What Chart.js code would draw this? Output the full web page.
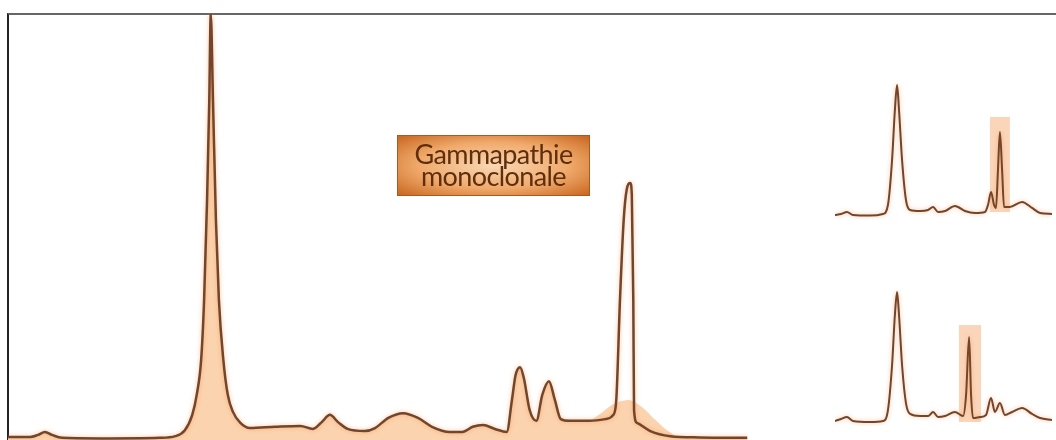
<!DOCTYPE html>
<html>
<head>
<meta charset="utf-8">
<script src="https://cdn.jsdelivr.net/npm/chart.js@4.4.1/dist/chart.umd.min.js"></script>
<style>
  html, body { margin: 0; padding: 0; background: #fff; }
  body { width: 1056px; height: 440px; position: relative; overflow: hidden; }
  .frame { position: absolute; left: 7px; top: 13px; right: 0; bottom: -2px;
           border-top: 2px solid #666; border-left: 2px solid #222; }
  .box { position: absolute; }
  .tag { position: absolute; left: 397px; top: 135px; width: 193px; height: 61px;
         border: 1px solid #a85a22;
         background: radial-gradient(ellipse at center, #f9d8b4 0%, #f0aa6c 55%, #c8661f 100%);
         color: #5e2e0e; font-family: Lato, "Open Sans", sans-serif; font-size: 27px;
         line-height: 22px; text-align: center; padding-top: 7px; box-sizing: border-box;
         letter-spacing: -0.6px; }
</style>
</head>
<body>
<div class="frame"></div>
<div class="box" style="left:8px;top:14px;width:740px;height:426px"><canvas id="main"></canvas></div>
<div class="box" style="left:835px;top:80px;width:217px;height:140px"><canvas id="top"></canvas></div>
<div class="box" style="left:835px;top:286px;width:217px;height:140px"><canvas id="bottom"></canvas></div>
<div class="tag">Gammapathie<br>monoclonale</div>
<script>
// main trace: migration position (0-100) and relative intensity (0-100)
const mainX = [0, 3.0, 4.05, 5.0, 5.95, 7.3, 12.4, 20.5, 22.6, 23.9, 24.9, 25.5, 26.1, 26.5, 26.9, 27.2, 27.4,
  27.7, 28.1, 28.5, 29.1, 29.7, 30.4, 31.4, 32.7, 36.1, 39.5, 41.2, 42.4, 43.5, 44.6, 45.9, 48.2, 49.6, 51.4,
  53.4, 55.4, 57.3, 59.7, 61.4, 62.8, 64.2, 65.8, 67.4, 68.1, 68.6, 69.2, 69.7, 70.5, 71.4, 72.2, 73.1, 73.9,
  74.7, 75.9, 78.6, 80.7, 81.8, 82.2, 82.7, 83.2, 83.6, 84.1, 84.3, 84.5, 84.6, 85.0, 86.8, 89.5, 93.5, 99.9];
const mainY = [0.7, 0.7, 1.2, 1.9, 1.2, 0.5, 0.35, 0.5, 0.9, 2.3, 5.9, 10.6, 18.8, 32.9, 56.3, 79.8, 100,
  79.8, 51.6, 32.9, 18.8, 10.6, 6.6, 4.0, 2.8, 3.1, 3.3, 2.6, 4.2, 5.9, 4.2, 2.6, 2.1, 2.8, 5.2,
  6.3, 5.2, 3.1, 1.9, 1.9, 3.1, 3.5, 2.6, 1.9, 9.4, 15.3, 17.1, 14.6, 7.0, 4.5, 10.6, 13.8, 9.4,
  4.9, 4.5, 4.5, 4.9, 5.9, 9.4, 32.9, 51.6, 58.7, 60.3, 57.5, 32.9, 7.0, 4.0, 2.1, 0.9, 0.6, 0.5];

// shaded profile: normal pattern with a broad polyclonal gamma zone
const areaX = [0, 3.0, 4.05, 5.0, 5.95, 7.3, 12.4, 20.5, 22.6, 23.9, 24.9, 25.5, 26.1, 26.5, 26.9, 27.2, 27.4,
  27.7, 28.1, 28.5, 29.1, 29.7, 30.4, 31.4, 32.7, 36.1, 39.5, 41.2, 42.4, 43.5, 44.6, 45.9, 48.2, 49.6, 51.4,
  53.4, 55.4, 57.3, 59.7, 61.4, 62.8, 64.2, 65.8, 67.4, 68.1, 68.6, 69.2, 69.7, 70.5, 71.4, 72.2, 73.1, 73.9,
  74.7, 75.9, 78.6, 80.0, 81.6, 83.8, 85.7, 87.6, 89.2, 90.8, 93.5, 99.9];
const areaY = [0.7, 0.7, 1.2, 1.9, 1.2, 0.5, 0.35, 0.5, 0.9, 2.3, 5.9, 10.6, 18.8, 32.9, 56.3, 79.8, 100,
  79.8, 51.6, 32.9, 18.8, 10.6, 6.6, 4.0, 2.8, 3.1, 3.3, 2.6, 4.2, 5.9, 4.2, 2.6, 2.1, 2.8, 5.2,
  6.3, 5.2, 3.1, 1.9, 1.9, 3.1, 3.5, 2.6, 1.9, 9.4, 15.3, 17.1, 14.6, 7.0, 4.5, 10.6, 13.8, 9.4,
  4.9, 4.5, 4.7, 6.1, 8.2, 9.4, 7.7, 4.5, 2.1, 0.7, 0.6, 0.5];

// small trace, top: monoclonal band in gamma
const topX = [0, 2.8, 5.5, 8.3, 16.1, 22.1, 24.4, 26.3, 27.6, 28.6, 29.5, 30.9, 32.7, 34.6, 39.2, 42.9, 45.2,
  47.5, 50.7, 55.3, 59.9, 64.5, 69.1, 70.5, 71.9, 73.3, 74.2, 75.1, 76.0, 77.0, 77.9, 80.6, 86.2, 90.8, 94.5, 100];
const topY = [3.6, 4.3, 5.7, 3.6, 3.2, 4.3, 10.7, 42.9, 78.6, 96.4, 78.6, 42.9, 14.3, 7.1, 6.4, 7.1, 9.3,
  5.7, 6.4, 10.0, 6.4, 5.0, 5.7, 10.7, 20.0, 10.7, 8.6, 35.7, 62.9, 35.7, 9.3, 9.3, 12.9, 8.6, 5.0, 4.3];
const topBand = [71.4, 80.6, 5.7, 73.6]; // from, to, low, high

// small trace, bottom: monoclonal band in beta
const botX = [0, 2.8, 5.5, 8.3, 16.1, 22.1, 24.4, 26.3, 27.6, 28.6, 29.5, 30.9, 32.7, 34.6, 39.2, 42.9, 45.2,
  47.5, 50.7, 55.3, 59.0, 60.4, 61.8, 62.7, 63.6, 66.8, 69.6, 71.9, 73.7, 76.0, 78.3, 81.6, 86.2, 90.8, 94.5, 100];
const botY = [3.6, 5.0, 6.4, 3.6, 2.9, 3.6, 11.4, 43.6, 79.3, 95.7, 79.3, 43.6, 16.4, 8.6, 7.1, 7.1, 10.0,
  6.4, 7.1, 10.0, 7.1, 22.1, 63.6, 22.1, 5.7, 6.4, 7.9, 20.0, 10.0, 16.4, 7.9, 10.0, 12.9, 8.6, 5.7, 4.3];
const botBand = [57.1, 67.3, 2.9, 72.1];

const lineColor = '#74452a';
const fillColor = '#fbd3ae';

const pts = (xs, ys) => xs.map((x, i) => ({x: x, y: ys[i]}));

const bandPlugin = {
  id: 'band',
  beforeDatasetsDraw(chart) {
    const b = chart.options.plugins.band;
    if (!b || !b.range) return;
    const {ctx, scales} = chart;
    const x1 = scales.x.getPixelForValue(b.range[0]);
    const x2 = scales.x.getPixelForValue(b.range[1]);
    const y1 = scales.y.getPixelForValue(b.range[3]);
    const y2 = scales.y.getPixelForValue(b.range[2]);
    ctx.save();
    ctx.fillStyle = 'rgba(246,178,128,0.55)';
    ctx.fillRect(x1, y1, x2 - x1, y2 - y1);
    ctx.restore();
  }
};

const glow = {
  id: 'glow',
  beforeDatasetDraw(chart, args) {
    if (args.meta.dataset && args.meta.dataset.options.fill) return;
    chart.ctx.save();
    chart.ctx.shadowColor = 'rgba(240,150,80,0.6)';
    chart.ctx.shadowBlur = 4;
  },
  afterDatasetDraw(chart, args) {
    if (args.meta.dataset && args.meta.dataset.options.fill) return;
    chart.ctx.restore();
  }
};

function baseOptions(band) {
  return {
    responsive: true,
    maintainAspectRatio: false,
    animation: false,
    layout: {padding: 0},
    plugins: {legend: {display: false}, tooltip: {enabled: false}, band: {range: band}},
    elements: {point: {radius: 0}},
    scales: {
      x: {type: 'linear', min: 0, max: 100, display: false},
      y: {min: 0, max: 100, display: false}
    }
  };
}

new Chart(document.getElementById('main'), {
  type: 'line',
  data: {
    datasets: [{
      label: 'Profil',
      data: pts(mainX, mainY),
      borderColor: lineColor,
      borderWidth: 2.5,
      cubicInterpolationMode: 'monotone',
      fill: false,
      order: 0
    }, {
      label: 'Zone',
      data: pts(areaX, areaY),
      borderWidth: 0,
      borderColor: 'rgba(0,0,0,0)',
      backgroundColor: fillColor,
      cubicInterpolationMode: 'monotone',
      fill: 'origin',
      order: 1
    }]
  },
  options: baseOptions(null),
  plugins: [glow]
});

new Chart(document.getElementById('top'), {
  type: 'line',
  data: {
    datasets: [{
      data: pts(topX, topY),
      borderColor: lineColor,
      borderWidth: 2,
      cubicInterpolationMode: 'monotone',
      fill: false
    }]
  },
  options: baseOptions(topBand),
  plugins: [bandPlugin, glow]
});

new Chart(document.getElementById('bottom'), {
  type: 'line',
  data: {
    datasets: [{
      data: pts(botX, botY),
      borderColor: lineColor,
      borderWidth: 2,
      cubicInterpolationMode: 'monotone',
      fill: false
    }]
  },
  options: baseOptions(botBand),
  plugins: [bandPlugin, glow]
});
</script>
</body>
</html>
